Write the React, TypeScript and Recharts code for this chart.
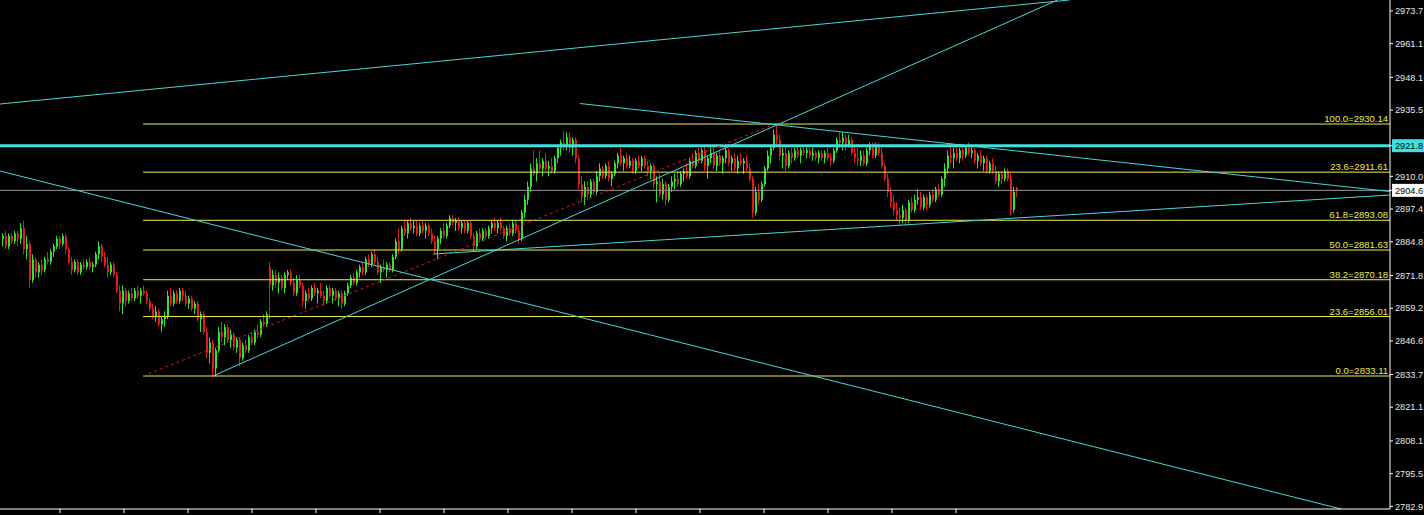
import React from "react";
import { ComposedChart, Bar, XAxis, YAxis, ReferenceLine } from "recharts";

// bar-by-bar prices
const opens = [
  2886,2887,2883,2887,2885,2888,2886,2890,2882,2884,
  2870,2878,2873,2876,2874,2878,2877,2881,2883,2886,
  2884,2887,2882,2877,2874,2877,2873,2876,2875,2877,
  2875,2876,2880,2883,2879,2876,2873,2876,2872,2866,
  2861,2866,2862,2865,2863,2866,2864,2866,2865,2862,
  2859,2856,2858,2853,2855,2856,2864,2861,2865,2862,
  2866,2864,2861,2863,2859,2861,2855,2857,2850,2842,
  2846,2836,2843,2850,2848,2852,2847,2849,2844,2847,
  2840,2845,2843,2848,2846,2850,2849,2854,2853,2875,
  2868,2872,2869,2871,2867,2872,2873,2869,2865,2870,
  2868,2862,2865,2863,2867,2865,2866,2864,2862,2867,
  2864,2866,2863,2865,2861,2865,2868,2871,2869,2873,
  2875,2873,2878,2876,2880,2877,2873,2875,2874,2876,
  2874,2879,2885,2882,2890,2888,2892,2890,2891,2888,
  2891,2889,2891,2888,2885,2882,2886,2889,2887,2891,
  2894,2892,2893,2890,2892,2889,2892,2887,2883,2888,
  2886,2889,2887,2890,2892,2890,2892,2890,2887,2890,
  2888,2892,2889,2886,2896,2901,2906,2913,2911,2915,
  2913,2916,2913,2914,2912,2917,2921,2923,2922,2925,
  2921,2924,2917,2907,2902,2906,2903,2908,2904,2910,
  2913,2910,2914,2909,2911,2915,2918,2915,2917,2914,
  2916,2912,2916,2914,2917,2914,2912,2914,2907,2908,
  2903,2907,2901,2906,2908,2909,2907,2911,2912,2910,
  2916,2914,2919,2916,2920,2914,2917,2919,2914,2918,
  2915,2917,2920,2915,2917,2913,2916,2915,2916,2913,
  2909,2896,2904,2901,2907,2913,2918,2921,2926,2924,
  2918,2919,2914,2919,2917,2920,2918,2920,2919,2920,
  2918,2919,2917,2919,2917,2919,2917,2916,2920,2924,
  2923,2925,2922,2924,2919,2917,2916,2918,2915,2920,
  2922,2918,2922,2919,2914,2909,2904,2900,2897,2895,
  2894,2897,2893,2900,2897,2901,2902,2898,2902,2899,
  2903,2901,2905,2903,2909,2913,2918,2917,2919,2917,
  2920,2918,2921,2919,2920,2916,2918,2915,2917,2912,
  2915,2912,2908,2911,2909,2912,2909,2897,2905.5,
];

const highs = [
  2888,2889,2888,2888,2889,2889,2892,2893,2887,2885,
  2880,2879,2877,2878,2879,2881,2882,2884,2887,2887,
  2888,2888,2883,2879,2878,2878,2877,2878,2878,2879,
  2877,2881,2885,2884,2881,2879,2877,2877,2873,2868,
  2868,2867,2866,2867,2867,2868,2867,2868,2866,2863,
  2861,2860,2859,2856,2858,2866,2867,2866,2866,2867,
  2867,2866,2864,2864,2862,2862,2858,2858,2852,2848,
  2847,2844,2852,2854,2853,2853,2851,2850,2848,2848,
  2846,2847,2849,2850,2851,2853,2855,2857,2858,2877,
  2874,2874,2873,2872,2873,2874,2874,2871,2872,2872,
  2869,2866,2867,2868,2869,2867,2869,2866,2868,2868,
  2867,2867,2866,2866,2866,2869,2872,2873,2874,2876,
  2877,2879,2880,2881,2882,2879,2876,2878,2877,2877,
  2880,2886,2890,2891,2893,2893,2894,2893,2893,2892,
  2893,2892,2892,2890,2887,2887,2890,2892,2892,2895,
  2895,2894,2894,2893,2893,2893,2893,2888,2889,2890,
  2890,2890,2891,2893,2894,2893,2894,2891,2891,2892,
  2893,2893,2891,2897,2903,2908,2915,2920,2917,2920,
  2917,2919,2916,2917,2918,2922,2924,2927.5,2927,2927,
  2925,2925,2918,2910,2908,2908,2909,2909,2912,2915,
  2914,2915,2916,2912,2916,2919,2921,2918,2919,2918,
  2917,2917,2918,2918,2918,2916,2915,2915,2910,2911,
  2909,2908,2907,2910,2911,2912,2912,2913,2915,2917,
  2919,2920,2921,2921,2922,2918,2921,2921,2919,2920,
  2918,2921,2921,2918,2919,2918,2919,2917,2918,2915,
  2910,2906,2907,2908,2914,2920,2922,2928,2930,2926,
  2921,2921,2920,2921,2921,2922,2921,2922,2921,2921,
  2921,2920,2920,2920,2920,2921,2919,2921,2925,2927,
  2927,2926,2926,2925,2922,2921,2920,2920,2921,2923,
  2923,2923,2923,2921,2915,2911,2906,2903,2900,2898,
  2899,2898,2901,2902,2903,2905,2904,2903,2903,2904,
  2905,2906,2907,2910,2915,2920,2923,2921,2922,2921,
  2922,2922,2923,2922,2921,2919,2920,2918,2918,2916,
  2917,2914,2912,2912,2913,2913,2911,2906,2906,
];

const lows = [
  2883,2882,2882,2884,2884,2883,2884,2880,2878,2867,
  2869,2871,2871,2872,2873,2876,2876,2879,2882,2882,
  2883,2880,2876,2872,2873,2872,2872,2874,2874,2874,
  2873,2875,2878,2877,2875,2871,2872,2871,2865,2858,
  2857,2860,2861,2862,2862,2863,2861,2864,2861,2858,
  2855,2854,2852,2850,2852,2855,2860,2860,2861,2861,
  2862,2860,2859,2858,2857,2854,2850,2849,2840,2838,
  2832.7,2833,2842,2846,2845,2846,2844,2843,2842,2837,
  2839,2842,2842,2845,2845,2848,2848,2852,2852,2855,
  2866,2867,2865,2866,2865,2870,2868,2864,2864,2867,
  2860,2859,2862,2862,2864,2861,2863,2860,2861,2863,
  2861,2862,2860,2859,2860,2864,2867,2868,2868,2871,
  2872,2872,2875,2875,2876,2872,2869,2873,2871,2873,
  2873,2878,2880,2881,2887,2886,2889,2888,2887,2887,
  2888,2886,2887,2884,2880,2878,2884,2886,2886,2890,
  2891,2889,2889,2888,2888,2888,2886,2881,2882,2885,
  2885,2886,2886,2888,2889,2888,2889,2886,2885,2887,
  2887,2888,2884,2885,2894,2899,2904,2910,2908,2912,
  2910,2912,2910,2911,2911,2915,2918,2920,2920,2919,
  2918,2915,2905,2900,2899,2901,2902,2903,2903,2908,
  2909,2909,2908,2906,2910,2913,2914,2912,2913,2913,
  2911,2911,2913,2912,2913,2910,2909,2905,2900,2902,
  2901,2899,2900,2904,2905,2906,2906,2908,2909,2909,
  2913,2913,2915,2915,2912,2909,2915,2913,2912,2914,
  2911,2915,2914,2912,2912,2911,2914,2911,2912,2908,
  2894,2895,2899,2900,2906,2912,2915,2920,2922,2916,
  2913,2912,2913,2915,2916,2917,2915,2918,2917,2917,
  2916,2916,2915,2916,2915,2916,2914,2915,2919,2921,
  2920,2920,2921,2918,2915,2914,2914,2914,2914,2918,
  2917,2917,2918,2913,2908,2902,2898,2895,2893,2891,
  2892,2891,2892,2896,2896,2899,2897,2897,2897,2898,
  2900,2900,2902,2902,2906,2911,2915,2913,2916,2915,
  2916,2917,2918,2917,2915,2913,2914,2912,2911,2911,
  2911,2907,2906,2907,2908,2908,2895,2896,2902,
];

const closes = [
  2887,2883,2887,2885,2888,2886,2890,2882,2884,2870,
  2878,2873,2876,2874,2878,2877,2881,2883,2886,2884,
  2887,2882,2877,2874,2877,2873,2876,2875,2877,2875,
  2876,2880,2883,2879,2876,2873,2876,2872,2866,2861,
  2866,2862,2865,2863,2866,2864,2866,2865,2862,2859,
  2856,2858,2853,2855,2856,2864,2861,2865,2862,2866,
  2864,2861,2863,2859,2861,2855,2857,2850,2842,2846,
  2836,2843,2850,2848,2852,2847,2849,2844,2847,2840,
  2845,2843,2848,2846,2850,2849,2854,2853,2857,2868,
  2872,2869,2871,2867,2872,2873,2869,2865,2870,2868,
  2862,2865,2863,2867,2865,2866,2864,2862,2867,2864,
  2866,2863,2865,2861,2865,2868,2871,2869,2873,2875,
  2873,2878,2876,2880,2877,2873,2875,2874,2876,2874,
  2879,2885,2882,2890,2888,2892,2890,2891,2888,2891,
  2889,2891,2888,2885,2882,2886,2889,2887,2891,2894,
  2892,2893,2890,2892,2889,2892,2887,2883,2888,2886,
  2889,2887,2890,2892,2890,2892,2890,2887,2890,2888,
  2892,2889,2886,2896,2901,2906,2913,2911,2915,2913,
  2916,2913,2914,2912,2917,2921,2923,2922,2925,2921,
  2924,2917,2907,2902,2906,2903,2908,2904,2910,2913,
  2910,2914,2909,2911,2915,2918,2915,2917,2914,2916,
  2912,2916,2914,2917,2914,2912,2914,2907,2908,2903,
  2907,2901,2906,2908,2909,2907,2911,2912,2910,2916,
  2914,2919,2916,2920,2914,2917,2919,2914,2918,2915,
  2917,2920,2915,2917,2913,2916,2915,2916,2913,2909,
  2896,2904,2901,2907,2913,2918,2921,2926,2924,2918,
  2919,2914,2919,2917,2920,2918,2920,2919,2920,2918,
  2919,2917,2919,2917,2919,2917,2916,2920,2924,2923,
  2925,2922,2924,2919,2917,2916,2918,2915,2920,2922,
  2918,2922,2919,2914,2909,2904,2900,2897,2895,2894,
  2897,2893,2900,2897,2901,2902,2898,2902,2899,2903,
  2901,2905,2903,2909,2913,2918,2917,2919,2917,2920,
  2918,2921,2919,2920,2916,2918,2915,2917,2912,2915,
  2912,2908,2911,2909,2912,2909,2897,2904,2904.6,
];

// price scale labels on the right
const yTicks = [
  2782.9, 2795.5, 2808.1, 2821.1, 2833.7, 2846.6, 2859.2, 2871.8, 2884.8,
  2897.4, 2904.6, 2910.0, 2921.8, 2935.5, 2948.1, 2961.1, 2973.7,
];
const xTicks = [19.5, 40.8, 62.2, 83.5, 104.8, 126.2, 147.5, 168.8, 190.2, 211.5, 232.8, 254.2, 275.5, 296.8, 318.2];

// fibonacci retracement
const fibLabels = ["100.0", "23.6", "61.8", "50.0", "38.2", "23.6", "0.0"];
const fibValues = [2930.14, 2911.61, 2893.08, 2881.63, 2870.18, 2856.01, 2833.11];
const fibStart = 47.2;
const fibBase = { x1: 47.2, y1: 2833.11, x2: 257.8, y2: 2930.14 };

// hand drawn trend lines (bar index, price)
const trendLines = [
  { x1: -0.5, y1: 2937.85, x2: 356, y2: 2977.9 },
  { x1: 70.5, y1: 2833.11, x2: 352, y2: 2977.9 },
  { x1: -0.5, y1: 2912.05, x2: 446.5, y2: 2781.9 },
  { x1: 192.8, y1: 2938.04, x2: 462.8, y2: 2904.15 },
  { x1: 143.8, y1: 2880.09, x2: 462.8, y2: 2902.81 },
];

const levelLine = 2921.8;
const bidPrice = 2904.6;

const X_MIN = -0.5;
const X_MAX = 462.83;
const Y_MIN = 2781.9;
const Y_MAX = 2977.9;

const UP = "#2ee62e";
const DOWN = "#e01c1c";
const FIB = "#eeee50";
const AQUA = "#48d8d8";
const FONT = "Liberation Sans, Arial, sans-serif";

const data = closes.map((c, i) => ({
  i,
  open: opens[i],
  high: highs[i],
  low: lows[i],
  close: c,
  range: [lows[i], highs[i]],
}));

const Candle = (props: any) => {
  const { x, y, width, height, payload } = props;
  if (!payload) return null;
  const top = Math.min(y, y + height);
  const h = Math.abs(height);
  const k = h / (payload.high - payload.low || 1);
  const oy = top + (payload.high - payload.open) * k;
  const cy = top + (payload.high - payload.close) * k;
  const color = payload.close >= payload.open ? UP : DOWN;
  const cx = Math.round(x + width / 2) + 0.5;
  return (
    <g>
      <line x1={cx} x2={cx} y1={top} y2={top + h} stroke={color} strokeWidth={1} />
      <rect x={cx - 0.5} y={Math.min(oy, cy)} width={width} height={Math.max(1, Math.abs(oy - cy))} fill={color} />
    </g>
  );
};

const PriceTick = (props: any) => {
  const { x, y, payload } = props;
  const v = payload.value;
  let bg = "";
  if (v === levelLine) bg = "#40e0e0";
  if (v === bidPrice) bg = "#ffffff";
  return (
    <g>
      {bg && <rect x={x - 4} y={y - 6.5} width={40} height={13} fill={bg} />}
      <text x={x - 1} y={y} dy="0.35em" fill={bg ? "#000" : "#e8e8e8"} fontSize={9.2} fontFamily={FONT}>
        {v.toFixed(1)}
      </text>
    </g>
  );
};

export default function App() {
  return (
    <div style={{ position: "absolute", left: 0, top: 0, width: 1424, height: 515, background: "#000", overflow: "hidden" }}>
      <ComposedChart width={1424} height={515} data={data} margin={{ top: 0, right: 0, bottom: 0, left: 0 }}>
        <XAxis
          type="number"
          dataKey="i"
          domain={[X_MIN, X_MAX]}
          allowDataOverflow
          ticks={xTicks}
          tickFormatter={() => ""}
          height={6}
          tickSize={4}
          axisLine={{ stroke: "#fff" }}
          tickLine={{ stroke: "#fff" }}
        />
        <YAxis
          orientation="right"
          domain={[Y_MIN, Y_MAX]}
          allowDataOverflow
          ticks={yTicks}
          interval={0}
          width={34}
          tickSize={3}
          tickMargin={3}
          axisLine={{ stroke: "#fff" }}
          tickLine={{ stroke: "#fff" }}
          tick={<PriceTick />}
        />
        <Bar dataKey="range" barSize={2} shape={<Candle />} isAnimationActive={false} />
        <ReferenceLine y={bidPrice} stroke="#9a9a9a" strokeWidth={1} />
        <ReferenceLine y={levelLine} stroke="#40e0e0" strokeWidth={3} />
        {fibValues.map((v, k) => (
          <ReferenceLine
            key={"f" + k}
            segment={[{ x: fibStart, y: v }, { x: X_MAX, y: v }]}
            stroke={FIB}
            strokeWidth={1}
            ifOverflow="hidden"
            label={{
              value: `${fibLabels[k]}=${v.toFixed(2)}`,
              position: "insideBottomRight",
              offset: 2,
              fill: FIB,
              fontSize: 9.5,
              fontFamily: FONT,
            }}
          />
        ))}
        <ReferenceLine
          segment={[{ x: fibBase.x1, y: fibBase.y1 }, { x: fibBase.x2, y: fibBase.y2 }]}
          stroke="#d02020"
          strokeDasharray="3 3"
          ifOverflow="hidden"
        />
        {trendLines.map((t, k) => (
          <ReferenceLine
            key={"t" + k}
            segment={[{ x: t.x1, y: t.y1 }, { x: t.x2, y: t.y2 }]}
            stroke={AQUA}
            strokeWidth={1}
            ifOverflow="hidden"
          />
        ))}
      </ComposedChart>
    </div>
  );
}
